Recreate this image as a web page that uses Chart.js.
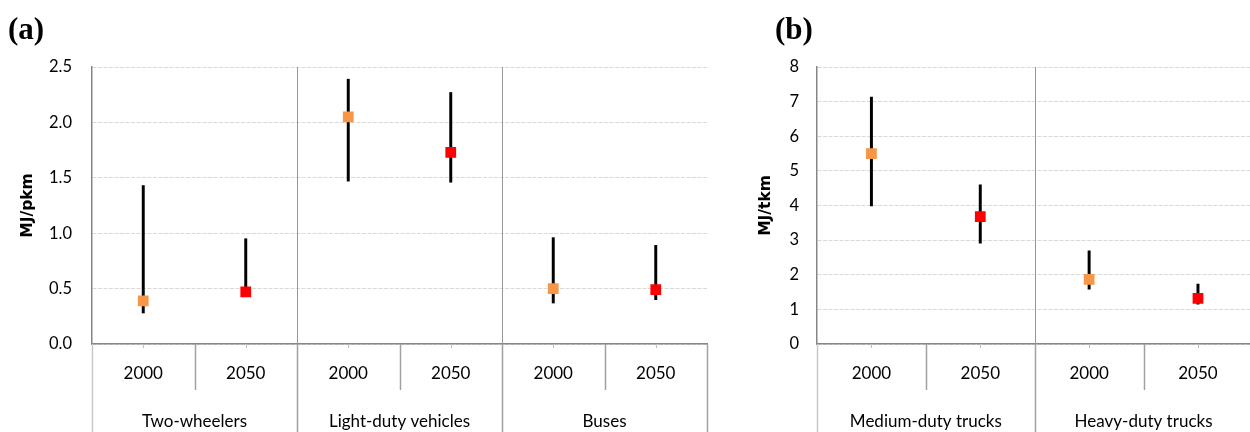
<!DOCTYPE html>
<html>
<head>
<meta charset="utf-8">
<script src="https://cdn.jsdelivr.net/npm/chart.js@4.4.1/dist/chart.umd.min.js"></script>
<style>
  html, body { margin: 0; padding: 0; background: #ffffff; overflow: hidden; }
  #wrap { position: relative; width: 1250px; height: 432px; overflow: hidden; }
  #ca { position: absolute; left: 0; top: 0; }
  #cb { position: absolute; left: 740px; top: 0; }
</style>
</head>
<body>
<div id="wrap">
  <canvas id="ca" width="720" height="432"></canvas>
  <canvas id="cb" width="520" height="432"></canvas>
</div>
<script>
// ---------- DATA ----------
const years = ['2000', '2050'];

const groupsA = ['Two-wheelers', 'Light-duty vehicles', 'Buses'];
const meanA = [0.39, 0.47, 2.05, 1.73, 0.50, 0.49];
const lowA  = [0.28, 0.44, 1.47, 1.46, 0.37, 0.40];
const highA = [1.43, 0.95, 2.39, 2.27, 0.96, 0.89];
const yTicksA = [0, 0.5, 1.0, 1.5, 2.0, 2.5];

const groupsB = ['Medium-duty trucks', 'Heavy-duty trucks'];
const meanB = [5.50, 3.68, 1.87, 1.32];
const lowB  = [3.99, 2.91, 1.58, 1.15];
const highB = [7.13, 4.60, 2.69, 1.73];
const yTicksB = [0, 1, 2, 3, 4, 5, 6, 7, 8];

const yearColors = { '2000': '#F79646', '2050': '#FF0000' };

// ---------- HELPERS ----------
const FONT = 'Lato, "Open Sans", sans-serif';

const xDecor = {
  id: 'xDecor',
  afterDraw(chart, args, opts) {
    const ctx = chart.ctx;
    const xs = chart.scales.x;
    const ca = chart.chartArea;
    const n = chart.data.labels.length;
    const H = chart.height;
    const px = i => xs.getPixelForValue(i);
    const half = (px(1) - px(0)) / 2;
    const edge = k => (k === 0 ? px(0) - half : (k === n ? px(n - 1) + half : (px(k - 1) + px(k)) / 2));
    ctx.save();
    // vertical separators
    for (let k = 0; k <= n; k++) {
      const x = Math.round(edge(k)) + 0.5;
      if (k % 2 === 0) {
        if (k !== 0 && k !== n) {
          ctx.strokeStyle = '#969696'; ctx.lineWidth = 1;
          ctx.beginPath(); ctx.moveTo(x, ca.top); ctx.lineTo(x, ca.bottom); ctx.stroke();
        }
        ctx.strokeStyle = (k === 0) ? '#c8c8c8' : '#a0a0a0'; ctx.lineWidth = 1.5;
        ctx.beginPath(); ctx.moveTo(x, ca.bottom); ctx.lineTo(x, H); ctx.stroke();
      } else {
        ctx.strokeStyle = '#a0a0a0'; ctx.lineWidth = 1.5;
        ctx.beginPath(); ctx.moveTo(x, ca.bottom); ctx.lineTo(x, ca.bottom + 46); ctx.stroke();
      }
    }
    // small tick marks at category centres
    ctx.strokeStyle = '#bfbfbf'; ctx.lineWidth = 1;
    for (let i = 0; i < n; i++) {
      const x = Math.round(px(i)) + 0.5;
      ctx.beginPath(); ctx.moveTo(x, ca.bottom); ctx.lineTo(x, ca.bottom + 4); ctx.stroke();
    }
    // labels
    ctx.fillStyle = '#000000';
    ctx.font = '17px ' + FONT;
    ctx.textAlign = 'center'; ctx.textBaseline = 'middle';
    for (let i = 0; i < n; i++) {
      ctx.fillText(chart.data.labels[i], px(i), ca.bottom + 30);
    }
    const groups = opts.groups;
    groups.forEach((g, j) => {
      const xm = (edge(2 * j) + edge(2 * j + 2)) / 2;
      ctx.fillText(g, xm, ca.bottom + 78);
    });
    // panel letter
    ctx.font = 'bold 31px "Liberation Serif", "DejaVu Serif", serif';
    ctx.textAlign = 'left'; ctx.textBaseline = 'alphabetic';
    ctx.fillText(opts.letter, opts.letterX, 39);
    ctx.restore();
  }
};

function makeChart(id, cfg) {
  const labels = cfg.groups.flatMap(() => years);
  const ranges = cfg.low.map((l, i) => [l, cfg.high[i]]);
  const colors = labels.map(y => yearColors[y]);
  return new Chart(document.getElementById(id), {
    data: {
      labels: labels,
      datasets: [
        {
          type: 'line',
          data: cfg.mean,
          showLine: false,
          pointStyle: 'rect',
          pointRadius: 7.6,
          pointHoverRadius: 7.6,
          pointBorderWidth: 0,
          pointBackgroundColor: colors,
          pointBorderColor: colors,
          order: 1
        },
        {
          type: 'bar',
          data: ranges,
          backgroundColor: '#000000',
          borderWidth: 0,
          barThickness: 2.3,
          order: 2
        }
      ]
    },
    options: {
      responsive: false,
      animation: false,
      devicePixelRatio: 1,
      events: [],
      layout: { padding: { top: 67, right: cfg.padRight, bottom: 0, left: 0 } },
      plugins: {
        legend: { display: false },
        tooltip: { enabled: false },
        xDecor: { groups: cfg.groups, letter: cfg.letter, letterX: cfg.letterX }
      },
      scales: {
        x: {
          type: 'category',
          offset: true,
          grid: { display: true, drawOnChartArea: false, drawTicks: false },
          border: { display: true, color: '#868686', width: 1.5 },
          ticks: { display: false },
          afterFit: s => { s.height = 88; }
        },
        y: {
          type: 'linear',
          min: cfg.yTicks[0],
          max: cfg.yTicks[cfg.yTicks.length - 1],
          afterBuildTicks: s => { s.ticks = cfg.yTicks.map(v => ({ value: v })); },
          afterFit: s => { s.width = cfg.yWidth; },
          grid: { color: '#d9d9d9', lineWidth: 1, drawTicks: false },
          border: { display: true, color: '#868686', width: 1.5, dash: [4, 1.5] },
          ticks: {
            padding: cfg.tickPad,
            color: '#000000',
            font: { family: FONT, size: 16.5 },
            callback: v => cfg.fmt(v)
          },
          title: {
            display: true,
            text: cfg.yTitle,
            color: '#000000',
            font: { family: '"DejaVu Sans", sans-serif', size: 15.5, weight: 'bold' },
            padding: { top: cfg.titlePad, bottom: 0 }
          }
        }
      }
    },
    plugins: [xDecor]
  });
}

makeChart('ca', {
  groups: groupsA, mean: meanA, low: lowA, high: highA, yTicks: yTicksA,
  fmt: v => Number(v).toFixed(1), yTitle: 'MJ/pkm', letter: '(a)', letterX: 8,
  yWidth: 92, padRight: 13, tickPad: 20, titlePad: 19
});
makeChart('cb', {
  groups: groupsB, mean: meanB, low: lowB, high: highB, yTicks: yTicksB,
  fmt: v => String(v), yTitle: 'MJ/tkm', letter: '(b)', letterX: 35,
  yWidth: 77, padRight: 7, tickPad: 18, titlePad: 17
});
</script>
</body>
</html>
